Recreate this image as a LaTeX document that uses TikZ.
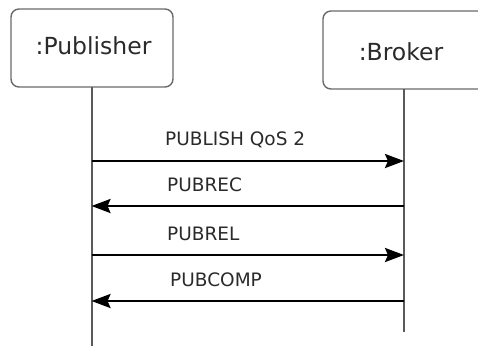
\documentclass[tikz,border=0pt]{standalone}
\usepackage{fontspec}
\setmainfont{DejaVu Sans}
\usetikzlibrary{arrows.meta}
\definecolor{framegray}{HTML}{6A6A6A}
\definecolor{linegray}{HTML}{5A5A5A}
\definecolor{textgray}{HTML}{2A2A2A}
\tikzset{
  actor/.style={draw=framegray, line width=1.4pt, rounded corners=8pt, fill=white},
  lifeline/.style={draw=linegray, line width=2pt},
  msg/.style={draw=black, line width=2.6pt, -{Stealth[length=19pt,width=14pt,inset=3pt]}},
  actorlabel/.style={anchor=base, text=textgray, font=\fontsize{23.5}{26}\selectfont, inner sep=0pt},
  msglabel/.style={anchor=base west, text=textgray, font=\fontsize{18.5}{21}\selectfont, inner sep=0pt},
}
\begin{document}
\begin{tikzpicture}[x=1pt, y=-1pt]
\useasboundingbox (0,0) rectangle (478,346);
\clip (0,0) rectangle (478,346);
% participant boxes
\draw[actor] (11,9) rectangle (173,87);
\draw[actor] (323,11) rectangle (486,89);
\node[actorlabel] (pub) at (93.5,54) {:Publisher};
\node[actorlabel] (brk) at (401,60) {:Broker};
% lifeline ends
\coordinate (pubtop) at (91.5,87);
\coordinate (pubend) at (91.5,346);
\coordinate (brktop) at (404,89);
\coordinate (brkend) at (404,332);
\draw[lifeline] (pubtop) -- (pubend);
\draw[lifeline] (brktop) -- (brkend);
% message anchor points on the lifelines
\coordinate (p1) at (91.5,161); \coordinate (b1) at (404,161);
\coordinate (p2) at (91.5,206); \coordinate (b2) at (404,206);
\coordinate (p3) at (91.5,255); \coordinate (b3) at (404,255);
\coordinate (p4) at (91.5,301); \coordinate (b4) at (404,301);
\draw[msg] (p1) -- (b1);
\draw[msg] (b2) -- (p2);
\draw[msg] (p3) -- (b3);
\draw[msg] (b4) -- (p4);
% message labels
\node[msglabel] (m1) at (165,145) {PUBLISH QoS 2};
\node[msglabel] (m2) at (167,191.5) {PUBREC};
\node[msglabel] (m3) at (167,240) {PUBREL};
\node[msglabel] (m4) at (170,286.5) {PUBCOMP};
\end{tikzpicture}
\end{document}
